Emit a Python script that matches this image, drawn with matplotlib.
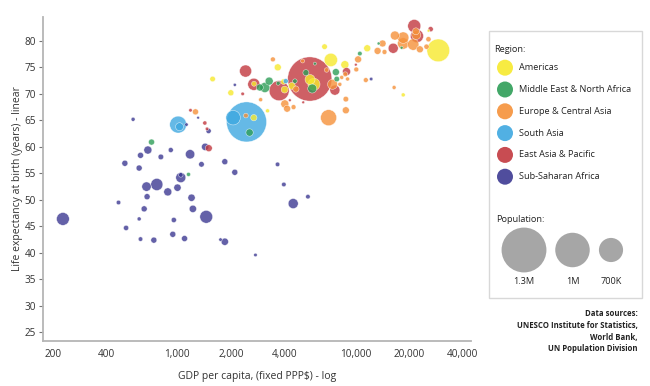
import matplotlib.pyplot as plt
from matplotlib.patches import Rectangle
import numpy as np

plt.rcParams['font.family'] = ['Open Sans', 'DejaVu Sans']

# population values are in thousands-of-thousands as in the legend (1300 = 1.3M)
regions = ['Americas', 'Middle East & North Africa', 'Europe & Central Asia',
           'South Asia', 'East Asia & Pacific', 'Sub-Saharan Africa']
colors = ['#f7e92d', '#2e9e58', '#f5913a', '#3ea8e0', '#c2383f', '#3d3a92']

americas_gdp = [29240, 5570, 5860, 7290, 8740, 6720, 11670, 3670, 1580, 2000, 3215,
                4010, 3955, 18580, 25770, 2692, 2700, 4400]
americas_life = [78.2, 72.7, 71.8, 76.4, 75.5, 78.9, 78.6, 75.0, 72.8, 70.2, 66.8,
                 70.8, 72.3, 69.8, 81.9, 65.5, 71.9, 71.5]
americas_pop = [658, 290, 350, 385, 232, 160, 200, 200, 160, 174, 116,
                200, 160, 116, 80, 183, 145, 200]

mena_gdp = [3283, 3105, 2910, 3690, 4580, 5280, 5730, 7780, 7870, 10610, 13520,
            5930, 18200, 717, 1157, 2548]
mena_life = [72.4, 71.2, 71.2, 72.0, 72.4, 74.0, 71.0, 74.1, 72.8, 77.6, 79.5,
             75.7, 78.7, 60.9, 54.8, 62.7]
mena_pop = [232, 290, 203, 116, 130, 174, 261, 203, 160, 130, 87,
            87, 87, 174, 116, 212]

europe_gdp = [1266, 2430, 2940, 3445, 4020, 4140, 4500, 7080, 7450, 8850, 8850,
              8790, 9050, 8190, 8390, 10370, 10130, 11460, 13340, 14230, 14590,
              16520, 16690, 18580, 18580, 21150, 22000, 23060, 25120, 25760, 21900,
              6900, 5060, 4640]
europe_life = [66.6, 65.9, 68.9, 76.5, 68.1, 67.2, 67.5, 65.5, 71.8, 69.0, 66.9,
               73.7, 72.8, 71.8, 73.1, 76.5, 74.6, 72.6, 78.1, 79.5, 77.9,
               71.2, 81.0, 80.6, 79.5, 79.3, 81.1, 78.4, 78.9, 80.3, 81.8,
               74.5, 76.2, 70.9]
europe_pop = [174, 136, 116, 140, 232, 200, 140, 464, 290, 160, 200,
              140, 116, 116, 116, 200, 140, 140, 200, 200, 140,
              116, 260, 330, 330, 330, 260, 200, 150, 150, 200,
              130, 116, 180]

sasia_gdp = [2450, 2060, 1012, 1030, 4070]
sasia_life = [64.7, 65.5, 64.2, 63.8, 72.4]
sasia_pop = [1160, 420, 490, 230, 145]

easia_gdp = [5550, 2420, 2692, 3736, 7680, 8930, 2330, 4290, 5100, 10070, 16330,
             21440, 22200, 26500, 1187, 1429, 1470, 1504]
easia_life = [72.8, 74.3, 71.8, 70.6, 70.7, 74.2, 70.0, 68.8, 68.4, 75.5, 78.6,
              82.8, 80.9, 82.2, 66.9, 64.5, 63.4, 59.75]
easia_pop = [1280, 350, 350, 580, 290, 232, 100, 80, 80, 80, 290,
             377, 377, 150, 100, 120, 100, 200]

ssa_gdp = [228, 565, 508, 611, 622, 684, 809, 920, 1181, 1368, 1435, 1850, 2105,
           3660, 3970, 4480, 5420, 2750, 1850, 1750, 1455, 1224, 1203, 1047, 1047,
           1003, 885, 768, 672, 677, 652, 468, 611, 516, 622, 739, 944, 1099, 957,
           1127, 1310, 1500, 2105, 12280]
ssa_life = [46.4, 65.2, 56.9, 56.0, 58.4, 59.4, 58.1, 59.4, 58.6, 56.7, 60.0, 57.2, 55.2,
            56.7, 52.9, 49.3, 50.6, 39.6, 42.1, 42.5, 46.8, 48.3, 50.4, 54.2, 54.7,
            52.3, 51.5, 52.9, 52.5, 50.6, 48.3, 49.5, 46.4, 44.7, 42.6, 42.4, 43.5, 42.7, 46.2,
            64.2, 65.5, 63.0, 71.7, 72.8]
ssa_pop = [370, 116, 174, 174, 174, 232, 160, 145, 270, 160, 210, 174, 174,
           130, 130, 290, 130, 100, 210, 100, 370, 210, 210, 290, 130,
           210, 232, 350, 270, 174, 174, 130, 116, 150, 130, 174, 174, 174, 150,
           100, 80, 150, 90, 100]

x_ticks = [200, 400, 1000, 2000, 4000, 10000, 20000, 40000]
y_ticks = [25, 30, 35, 40, 45, 50, 55, 60, 65, 70, 75, 80]
legend_pops = [1300, 1000, 700]
legend_labels = ['1.3M', '1M', '700K']
sources = ['Data sources:', 'UNESCO Institute for Statistics,', 'World Bank,',
           'UN Population Division']

DPI = 100


def size_of(pop):
    # bubble diameter in pixels grows linearly with population
    d = 34.5 * np.asarray(pop, dtype=float) / 1000.0
    return (d * 72.0 / DPI) ** 2


fig = plt.figure(figsize=(6.5, 3.86), dpi=DPI)
ax = fig.add_axes([0.066, 0.117, 0.659, 0.839])

data = [(americas_gdp, americas_life, americas_pop),
        (mena_gdp, mena_life, mena_pop),
        (europe_gdp, europe_life, europe_pop),
        (sasia_gdp, sasia_life, sasia_pop),
        (easia_gdp, easia_life, easia_pop),
        (ssa_gdp, ssa_life, ssa_pop)]

xs, ys, ps, cs = [], [], [], []
for (g, l, p), c in zip(data, colors):
    xs += g
    ys += l
    ps += p
    cs += [c] * len(g)
order = np.argsort(ps)[::-1]
xs = np.array(xs)[order]
ys = np.array(ys)[order]
ps = np.array(ps)[order]
cs = [cs[i] for i in order]

ax.scatter(xs, ys, s=size_of(ps), c=cs, alpha=0.8, edgecolors='white',
           linewidths=0.35, zorder=3)

ax.set_xscale('log')
ax.set_xlim(176, 44800)
ax.set_ylim(23.4, 84.5)
ax.set_xticks(x_ticks)
ax.set_xticklabels([f'{t:,}' for t in x_ticks])
ax.xaxis.set_minor_locator(plt.NullLocator())
ax.set_yticks(y_ticks)
ax.tick_params(axis='x', length=0, pad=6, labelsize=7.2, colors='#333333')
ax.tick_params(axis='y', length=3, width=0.8, color='#777777', pad=2,
               labelsize=7.2, labelcolor='#333333')
for s in ['top', 'right']:
    ax.spines[s].set_visible(False)
for s in ['left', 'bottom']:
    ax.spines[s].set_color('#b5b5b5')
    ax.spines[s].set_linewidth(1.3)
ax.set_xlabel('GDP per capita, (fixed PPP$) - log', fontsize=7.5, color='#333333',
              labelpad=8)
ax.set_ylabel('Life expectancy at birth (years) - linear', fontsize=7.5,
              color='#333333', labelpad=1)

# legend panel in pixel coordinates
lax = fig.add_axes([0, 0, 1, 1], zorder=5)
lax.set_xlim(0, 650)
lax.set_ylim(386, 0)
lax.axis('off')
lax.add_patch(Rectangle((489, 31), 153, 267, facecolor='white',
                        edgecolor='#d8d8d8', linewidth=1.0))
lax.text(494, 49, 'Region:', fontsize=6.6, color='#222222', va='center')
for i, (r, c) in enumerate(zip(regions, colors)):
    yy = 67.7 + i * 21.8
    lax.scatter([505], [yy], s=(16 * 0.72) ** 2, color=c, alpha=0.9,
                edgecolors='none')
    lax.text(519, yy, r, fontsize=6.6, color='#222222', va='center')
lax.text(496, 220, 'Population:', fontsize=6.6, color='#222222', va='center')
for px, p, lab in zip([524, 572.5, 611], legend_pops, legend_labels):
    lax.scatter([px], [250], s=size_of(p), color='#a6a6a6', edgecolors='none')
    lax.text(px, 282, lab, fontsize=6.6, color='#222222', ha='center', va='center')

for i, line in enumerate(sources):
    lax.text(638, 314 + i * 11.6, line, fontsize=5.6, fontweight='bold',
             color='#222222', ha='right', va='center')

fig.savefig('out.png', dpi=DPI)
